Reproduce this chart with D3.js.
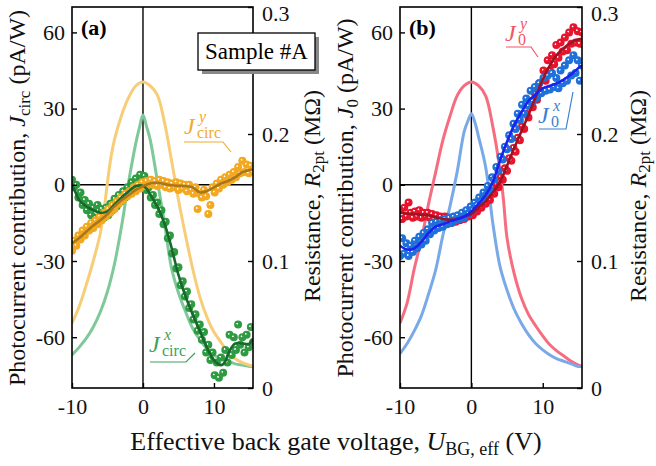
<!DOCTYPE html>
<html><head><meta charset="utf-8">
<script src="https://cdn.jsdelivr.net/npm/d3@7"></script>
<style>body{margin:0;background:#fff}svg{display:block;font-family:"Liberation Serif","Times New Roman",serif}</style>
</head><body><svg id="c" width="656" height="466"></svg>
<script>
// ---------- DATA ----------
const xTicks = [-10, 0, 10];
const jTicks = [60, 30, 0, -30, -60];
const rTicks = [0, 0.1, 0.2, 0.3];

const dotX = [-10,-9.7,-9.4,-9.1,-8.8,-8.5,-8.2,-7.9,-7.6,-7.3,-7.0,-6.7,-6.4,-6.1,-5.8,-5.5,-5.2,-4.9,-4.6,-4.3,
  -4.0,-3.7,-3.4,-3.1,-2.8,-2.5,-2.2,-1.9,-1.6,-1.3,-1.0,-0.7,-0.4,-0.1,0.2,0.5,0.8,1.1,1.4,1.7,
  2.0,2.3,2.6,2.9,3.2,3.5,3.8,4.1,4.4,4.7,5.0,5.3,5.6,5.9,6.2,6.5,6.8,7.1,7.4,7.7,
  8.0,8.3,8.6,8.9,9.2,9.5,9.8,10.1,10.4,10.7,11.0,11.3,11.6,11.9,12.2,12.5,12.8,13.1,13.4,13.7,
  14.0,14.3,14.6,14.9,15.2,15.5];

// panel (a) measured points
const jCircYDots = [-26,-22,-24,-20,-21.5,-18,-20,-16.5,-18,-15,
  -17,-14,-15.5,-12.5,-14,-11,-12.5,-9.5,-11,-8,
  -9.5,-6.5,-7.5,-5,-6,-3.5,-4.5,-2.5,-3.5,-1,
  -2.5,0,-1.5,1,-0.5,1.5,0,2,0,1.5,
  -0.5,2,0,1.5,-1,1,-1.5,0.5,-1,1,
  -2,0.5,-1.5,0,-2.5,0,-2,-3.5,-1,-9.5,
  -3.5,-5,-2,-4.5,-11.5,-8,-1,-3,0.5,-1.5,
  2,0,3,1,4,2,5,3,7,4.5,
  9.5,5,8,4.5,7.5,5];
const jCircXDots = [2,-1,0,-5,-3,-8,-6,-10,-7.5,-12,
  -9,-13,-8,-12.5,-9.5,-13,-9,-12,-7.5,-10,
  -5.5,-8.5,-4,-6.5,-2.5,-5,-1,-3.5,1,-1.5,
  2.5,0,4,1,3.5,-2,-1,-5,-4,-8,
  -7,-11.5,-10,-15.5,-14.5,-21,-20,-27,-26.5,-33,
  -32.5,-39.5,-38,-44,-42,-48.5,-47,-53,-51,-57.5,
  -55,-61,-58,-66,-63,-69,-66,-75,-70,-76,
  -68,-74,-65,-70,-59,-67,-60,-65,-55,-63,
  -60,-66,-59,-64,-56,-62];
// panel (b) measured points
const j0YDots = [-10,-13.5,-9,-12.5,-7,-11,-13,-10.5,-12.5,-10,
  -13,-11,-12.5,-11,-13,-11.5,-13.5,-12,-14,-12.5,
  -14.5,-12.5,-14.5,-13,-15,-13,-14.5,-12.5,-14,-12,
  -13.5,-11.5,-12.5,-10.5,-12,-9.5,-10.5,-8,-9,-6.5,
  -7.5,-5,-6,-2.5,-3.5,0,-1,3,2,6.5,
  5.5,10.5,9.5,14.5,13,18.5,17.5,23,22,28,
  26.5,32.5,30.5,36,33.5,40,37,45,41,49,
  45,51,47.5,55,50,56,52.5,58,53,60,
  55.5,62,56,60.5,55.5,60];
const j0XDots = [-28,-21,-27,-23,-28,-24,-26.5,-22,-25,-20.5,
  -23.5,-19,-22,-17.5,-19.5,-15,-18,-14.5,-17,-14,
  -16.5,-13.5,-15.5,-13,-15,-12.5,-14,-12,-13.5,-11,
  -13,-10,-11.5,-8.5,-10,-7,-8,-5,-6.5,-3,
  -4.5,-0.5,-2,3,2,7,5.5,11,10,15,
  14,19.5,18,24,22,28,25.5,31.5,28,34,
  31,37,33,38.5,34.5,40,36,42,37,43,
  37.5,44,38.5,42,38,45,40,47,41,49,
  43,51,44,49,41,47];

// smoothed curves [U, J]
const jCircYFit = [[-10,-23],[-9,-21],[-8,-18.5],[-7,-16],[-6,-14],[-5,-11.5],[-4,-8.5],[-3,-6],[-2,-4],[-1,-2],[0,-0.5],[1,0.5],[2,0.8],[3,0.3],[4,-0.2],[5,-0.4],[6,-0.5],[7,-1],[8,-3],[9,-2.5],[10,-1],[11,0.5],[12,1.5],[13,3],[14,5],[15,5.8],[15.5,6]];
const jCircXFit = [[-10,0],[-9.5,-3],[-9,-6],[-8,-8.5],[-7,-10],[-6,-11],[-5,-10.5],[-4,-7.7],[-3,-5],[-2,-2.5],[-1,-0.5],[0,-0.4],[0.5,-1.5],[1,-3.7],[2,-8.5],[3,-15],[4,-24.5],[5,-35.5],[6,-44],[7,-51],[8,-57.5],[9,-64],[10,-69],[11,-71],[11.5,-70],[12,-66.5],[12.5,-64],[13,-62.5],[14,-62.5],[15,-62.5],[15.5,-60.5]];
const j0YFit = [[-10,-11],[-9,-11.3],[-8,-11.5],[-7,-11.8],[-6,-12],[-5,-12.8],[-4,-13.5],[-3,-13.8],[-2,-13.5],[-1,-12.5],[0,-11.5],[1,-9],[2,-6.5],[3,-3],[4,1],[5,7.5],[6,14.5],[7,21],[8,27.5],[9,34.5],[10,41.5],[11,47],[12,51.3],[13,54],[14,56],[15,57.3],[15.5,57.5]];
const j0XFit = [[-10,-24],[-9,-25.5],[-8,-25],[-7,-22.5],[-6,-19],[-5,-16.5],[-4,-15.5],[-3,-14.5],[-2,-13.5],[-1,-12.5],[0,-10.5],[1,-7.5],[2,-4],[3,1],[4,9.5],[5,17],[6,23.5],[7,28.5],[8,33],[9,35.5],[10,38],[11,39],[12,40],[13,41.5],[14,43.5],[15,46],[15.5,47]];

// two-point resistance [U, MOhm]
const rAy = [[-10,0.051],[-9,0.064],[-8,0.081],[-7,0.100],[-6,0.122],[-5.5,0.140],[-5,0.162],[-4.5,0.182],[-4,0.196],[-3,0.215],[-2,0.229],[-1,0.238],[0,0.241],[1,0.238],[2,0.231],[3,0.210],[4,0.180],[5,0.148],[6,0.120],[7,0.094],[8,0.072],[9,0.056],[10,0.044],[11,0.036],[12,0.028],[13,0.023],[14,0.020],[15,0.018],[15.5,0.017]];
const rAx = [[-10,0.026],[-9,0.032],[-8,0.039],[-7,0.048],[-6,0.060],[-5,0.076],[-4,0.098],[-3,0.128],[-2,0.163],[-1,0.193],[-0.5,0.205],[0,0.215],[0.5,0.206],[1,0.196],[2,0.164],[3,0.131],[4,0.095],[5,0.075],[6,0.060],[7,0.047],[8,0.038],[9,0.031],[10,0.026],[11,0.023],[12,0.021],[13,0.019],[14,0.018],[15,0.017],[15.5,0.017]];
const rBy = [[-10,0.051],[-9,0.067],[-8,0.094],[-7,0.117],[-6,0.145],[-5,0.170],[-4,0.195],[-3,0.214],[-2,0.230],[-1,0.238],[0,0.241],[1,0.238],[2,0.230],[3,0.206],[4,0.172],[4.5,0.148],[5,0.118],[6,0.090],[7,0.071],[8,0.058],[9,0.049],[10,0.041],[11,0.034],[12,0.029],[13,0.025],[14,0.021],[15,0.018],[15.5,0.017]];
const rBx = [[-10,0.027],[-9,0.035],[-8,0.045],[-7,0.057],[-6,0.074],[-5,0.093],[-4,0.120],[-3,0.143],[-2,0.170],[-1,0.202],[-0.5,0.210],[0,0.216],[0.5,0.209],[1,0.198],[2,0.174],[3,0.130],[4,0.096],[5,0.077],[6,0.062],[7,0.051],[8,0.042],[9,0.035],[10,0.030],[11,0.026],[12,0.023],[13,0.021],[14,0.019],[15,0.017],[15.5,0.017]];

// ---------- DRAW ----------
const svg = d3.select("#c");
const defs = svg.append("defs");
function grad(id, col) {
  const g = defs.append("radialGradient").attr("id", id)
    .attr("cx", 0.5).attr("cy", 0.5).attr("r", 0.5).attr("fx", 0.36).attr("fy", 0.36);
  g.append("stop").attr("offset", 0).attr("stop-color", "#fff");
  g.append("stop").attr("offset", 0.12).attr("stop-color", "#fff");
  g.append("stop").attr("offset", 0.3).attr("stop-color", col);
  g.append("stop").attr("offset", 1).attr("stop-color", col);
}
const yTop = 7, yBot = 388;
const TICK_FS = 22, TITLE_FS = 24, SUB_FS = 17;

const panels = [
  {x0: 72, x1: 253, tag: "(a)", id: "a", rtX: 320,
   rA: rAx, rB: rAy, rAc: "#7fc89a", rBc: "#f8cd78",
   dA: jCircXDots, dB: jCircYDots, dAc: "#2e9b42", dBc: "#f3a81f",
   fA: jCircXFit, fB: jCircYFit, fAc: "#17692c", fBc: "#a8771a",
   ySym: "circ"},
  {x0: 400, x1: 582, tag: "(b)", id: "b", rtX: 646,
   rA: rBy, rB: rBx, rAc: "#f66d80", rBc: "#79a9e8",
   dA: j0YDots, dB: j0XDots, dAc: "#e8132c", dBc: "#1f70d8",
   fA: j0YFit, fB: j0XFit, fAc: "#9c1422", fBc: "#1a22f0",
   ySym: "0"}
];

panels.forEach(p => {
  const x = d3.scaleLinear().domain([-10, 15.5]).range([p.x0, p.x1]);
  const y = d3.scaleLinear().domain([-80, 70]).range([yBot, yTop]);
  const yr = d3.scaleLinear().domain([0, 0.3]).range([yBot, yTop]);
  grad("g" + p.id + "A", p.dAc);
  grad("g" + p.id + "B", p.dBc);
  defs.append("clipPath").attr("id", "clip" + p.id).append("rect")
    .attr("x", p.x0).attr("y", yTop).attr("width", p.x1 - p.x0).attr("height", yBot - yTop);
  const g = svg.append("g");
  const pl = g.append("g").attr("clip-path", `url(#clip${p.id})`);

  pl.append("line").attr("x1", p.x0).attr("x2", p.x1).attr("y1", y(0)).attr("y2", y(0))
    .attr("stroke", "#000").attr("stroke-width", 1.4);
  pl.append("line").attr("x1", x(0)).attr("x2", x(0)).attr("y1", yTop).attr("y2", yBot)
    .attr("stroke", "#000").attr("stroke-width", 1.4);

  const rl = d3.line().x(d => x(d[0])).y(d => yr(d[1])).curve(d3.curveCatmullRom.alpha(0.5));
  pl.append("path").datum(p.rA).attr("d", rl).attr("fill", "none").attr("stroke", p.rAc).attr("stroke-width", 3);
  pl.append("path").datum(p.rB).attr("d", rl).attr("fill", "none").attr("stroke", p.rBc).attr("stroke-width", 3);

  const drawDots = (vals, gid) => pl.append("g").selectAll("circle").data(vals).join("circle")
    .attr("cx", (d, i) => x(dotX[i])).attr("cy", d => y(d)).attr("r", 4)
    .attr("fill", `url(#${gid})`);
  drawDots(p.dA, "g" + p.id + "A");
  drawDots(p.dB, "g" + p.id + "B");

  const fl = d3.line().x(d => x(d[0])).y(d => y(d[1])).curve(d3.curveCatmullRom.alpha(0.5));
  pl.append("path").datum(p.fA).attr("d", fl).attr("fill", "none").attr("stroke", p.fAc).attr("stroke-width", 2.6);
  pl.append("path").datum(p.fB).attr("d", fl).attr("fill", "none").attr("stroke", p.fBc).attr("stroke-width", 2.6);

  const fmt = d => String(d);
  const ax = g.append("g").attr("transform", `translate(0,${yBot})`)
    .call(d3.axisBottom(x).tickValues(xTicks).tickSize(-5).tickPadding(10).tickFormat(fmt));
  const ay = g.append("g").attr("transform", `translate(${p.x0},0)`)
    .call(d3.axisLeft(y).tickValues(jTicks).tickSize(-5).tickPadding(7).tickFormat(fmt));
  const ar = g.append("g").attr("transform", `translate(${p.x1},0)`)
    .call(d3.axisRight(yr).tickValues(rTicks).tickSize(-5).tickPadding(9).tickFormat(d => d === 0 ? "0" : d3.format(".1f")(d)));
  [ax, ay, ar].forEach(a => {
    a.select(".domain").remove();
    a.selectAll(".tick line").attr("stroke", "#000").attr("stroke-width", 1.4);
    a.selectAll("text").attr("font-family", "Liberation Serif").attr("font-size", TICK_FS).attr("fill", "#111");
  });
  ar.selectAll(".tick text").filter(d => d === 0.3).attr("dy", "0.6em");
  g.append("rect").attr("x", p.x0).attr("y", yTop).attr("width", p.x1 - p.x0).attr("height", yBot - yTop)
    .attr("fill", "none").attr("stroke", "#000").attr("stroke-width", 1.6);

  g.append("text").attr("x", p.x0 + 9).attr("y", 35).attr("font-size", 22).attr("font-weight", "bold").text(p.tag);

  const lt = g.append("text").attr("transform", `translate(${p.x0 - 47},198) rotate(-90)`)
    .attr("text-anchor", "middle").attr("font-size", TITLE_FS).attr("fill", "#111");
  lt.append("tspan").text("Photocurrent contribution, ");
  lt.append("tspan").attr("font-style", "italic").text("J");
  lt.append("tspan").attr("font-size", SUB_FS).attr("dy", 5).text(p.ySym);
  lt.append("tspan").attr("dy", -5).text(" (pA/W)");
  const rt = g.append("text").attr("transform", `translate(${p.rtX},196) rotate(-90)`)
    .attr("text-anchor", "middle").attr("font-size", TITLE_FS).attr("fill", "#111");
  rt.append("tspan").text("Resistance, ");
  rt.append("tspan").attr("font-style", "italic").text("R");
  rt.append("tspan").attr("font-size", SUB_FS).attr("dy", 4).text("2pt");
  rt.append("tspan").attr("dy", -4).text(" (M\u03A9)");
});

function ann(xJ, yJ, sup, sub, col, pts) {
  svg.append("text").attr("x", xJ).attr("y", yJ).attr("font-size", 24).attr("font-style", "italic").attr("fill", col).text("J");
  svg.append("text").attr("x", xJ + 15).attr("y", yJ - 12).attr("font-size", 16).attr("font-style", "italic").attr("fill", col).text(sup);
  svg.append("text").attr("x", xJ + 13).attr("y", yJ + 4).attr("font-size", 16).attr("fill", col).text(sub);
  svg.append("path").attr("d", d3.line()(pts)).attr("fill", "none").attr("stroke", col).attr("stroke-width", 1.2);
}
ann(184, 134, "y", "circ", "#f2aa2e", [[184, 142], [223, 142], [231, 152]]);
ann(149, 352, "x", "circ", "#3aa35a", [[150, 362], [186, 362], [195, 353]]);
ann(505, 41, "y", "0", "#f15566", [[506, 47], [531, 47], [538, 57]]);
ann(538, 123, "x", "0", "#3b80d2", [[539, 129], [566, 129], [573, 92]]);

svg.append("rect").attr("x", 202).attr("y", 37).attr("width", 117).attr("height", 37).attr("fill", "#888");
svg.append("rect").attr("x", 198).attr("y", 33).attr("width", 117).attr("height", 37).attr("fill", "#fff")
  .attr("stroke", "#000").attr("stroke-width", 1.3);
svg.append("text").attr("x", 256.5).attr("y", 59).attr("text-anchor", "middle").attr("font-size", 23).text("Sample #A");

const xt = svg.append("text").attr("x", 336).attr("y", 450).attr("text-anchor", "middle").attr("font-size", 26).attr("fill", "#111");
xt.append("tspan").text("Effective back gate voltage, ");
xt.append("tspan").attr("font-style", "italic").text("U");
xt.append("tspan").attr("font-size", 18).attr("dy", 5).text("BG, eff");
xt.append("tspan").attr("dy", -5).text(" (V)");
</script></body></html>
